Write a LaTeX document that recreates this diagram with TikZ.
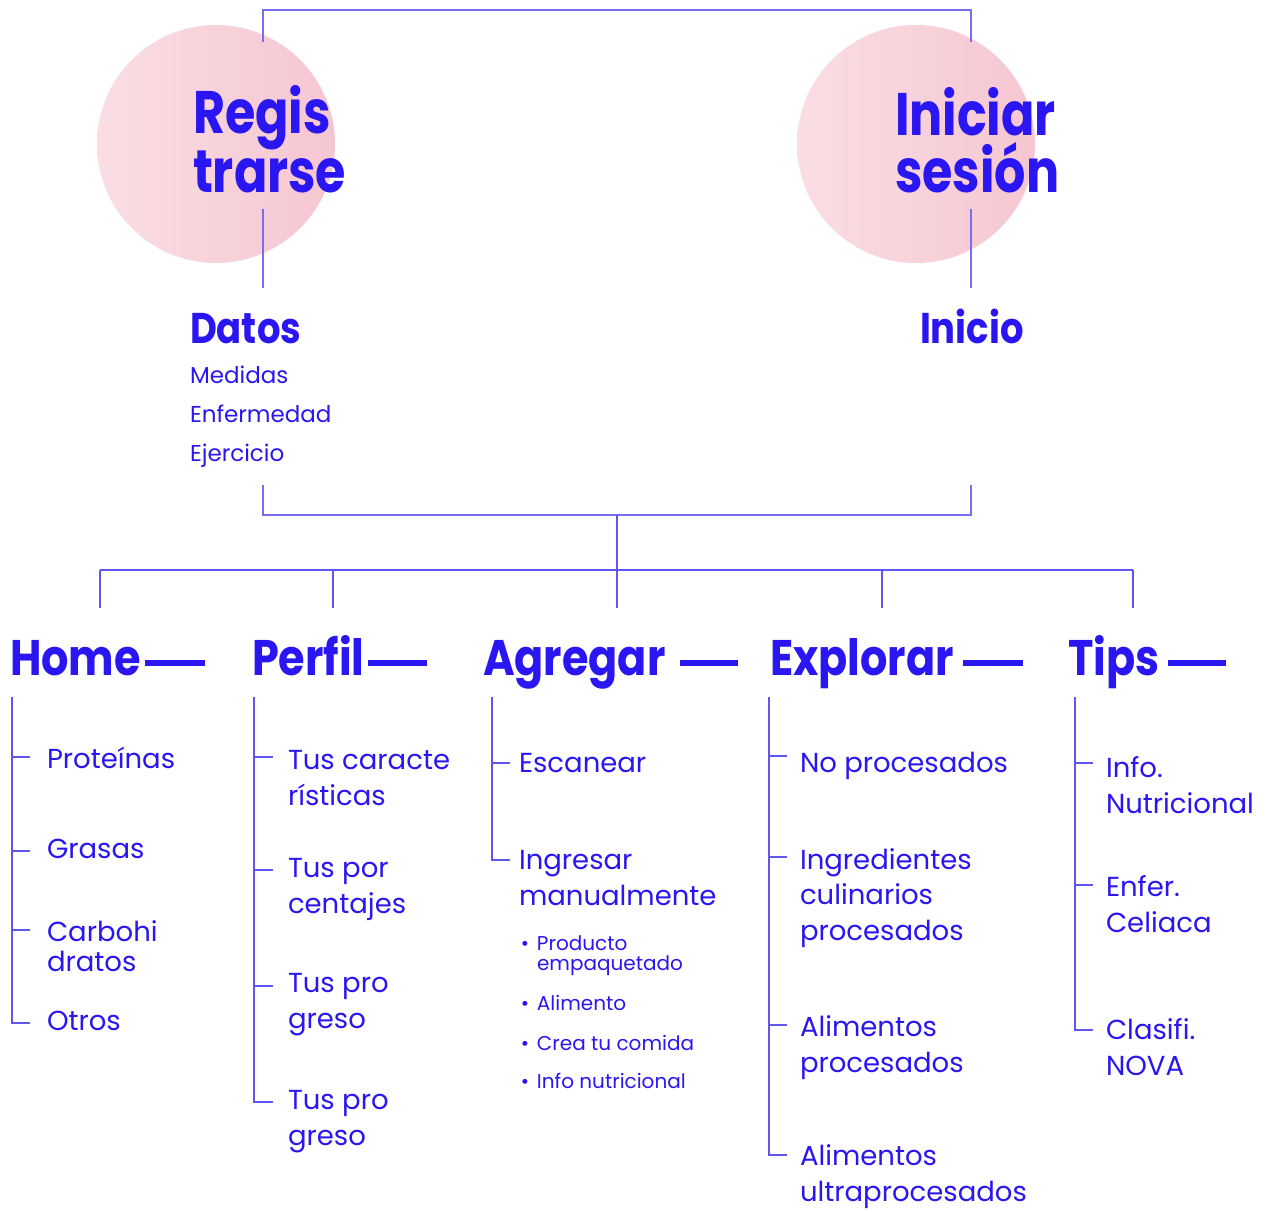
\documentclass[tikz,border=0pt]{standalone}
\usepackage{fontspec}
\setmainfont{Poppins}
\newfontfamily\hfont[FakeStretch=0.86]{Poppins}
\newfontfamily\bfont[FakeStretch=0.82]{Poppins}
\usetikzlibrary{calc}
\definecolor{tb}{RGB}{42,22,240}
\definecolor{lb}{RGB}{95,85,240}
\definecolor{lc}{RGB}{120,110,240}
\definecolor{pkl}{RGB}{250,222,228}
\definecolor{pkr}{RGB}{245,198,210}
\begin{document}
\begin{tikzpicture}[x=1pt,y=-1pt,
  every node/.style={inner sep=0pt, outer sep=0pt, text=tb, anchor=base west, align=left},
  big/.style={font=\bfont\bfseries\fontsize{60}{58}\selectfont},
  head/.style={font=\hfont\bfseries\fontsize{50}{50}\selectfont},
  sub/.style={font=\hfont\bfseries\fontsize{43}{43}\selectfont},
  small/.style={font=\fontsize{23}{39}\selectfont},
  item/.style={font=\fontsize{27.5}{35.5}\selectfont},
  itemt/.style={font=\fontsize{27.5}{30}\selectfont},
  tiny/.style={font=\fontsize{20}{20}\selectfont},
  tree/.style={draw=lb, line width=2pt},
  conn/.style={draw=lc, line width=2pt},
  dashline/.style={draw=tb, line width=6pt}
]
\useasboundingbox (0,0) rectangle (1275,1212);
% circles
\shade[left color=pkl, right color=pkr] (216,144) circle[radius=119pt];
\shade[left color=pkl, right color=pkr] (916,144) circle[radius=119pt];

% top texts (multi-line nodes are placed at the baseline of their last line)
\node[big] (reg) at (193,193) {Regis\\trarse};
\node[big] (ini) at (895,193) {Iniciar\\sesión};
\node[sub] (datos) at (190,343) {Datos};
\node[small] (dlist) at (190,461) {Medidas\\Enfermedad\\Ejercicio};
\node[sub] (inicio) at (920,343) {Inicio};

% top connector
\coordinate (rt) at (263,42);
\coordinate (it) at (971,42);
\coordinate (top) at (617,10);
\draw[conn] (rt) |- (top) -| (it);
\coordinate (rb) at (263,209);
\coordinate (rd) at (263,288);
\coordinate (ib) at (971,209);
\coordinate (id) at (971,288);
\draw[conn] (rb) -- (rd);
\draw[conn] (ib) -- (id);

% bottom bracket
\coordinate (dl) at (263,485);
\coordinate (dr) at (971,485);
\coordinate (mid) at (617,515);
\draw[conn] (dl) |- (mid) -| (dr);

% headings
\node[head] (home) at (10,675) {Home};
\node[head] (perfil) at (252,675) {Perfil};
\node[head] (agregar) at (483,675) {Agregar};
\node[head] (explorar) at (770,675) {Explorar};
\node[head] (tips) at (1068,675) {Tips};
\foreach \a/\b in {145/205, 368/427, 680/738, 963/1023, 1168/1226}{
  \draw[dashline] (\a,663) -- (\b,663);
}

% distribution bar
\coordinate (h0) at (100,570);
\coordinate (h4) at (1133,570);
\draw[tree] (h0) -- (h4);
\draw[tree] (mid) -- (617,608);
\foreach \x in {100,333,882,1133}{ \draw[tree] (\x,570) -- (\x,608); }

% Home column
\node[item] (prot) at (47,768) {Proteínas};
\node[item] (gras) at (47,858) {Grasas};
\node[itemt] (carb) at (47,971) {Carbohi\\dratos};
\node[item] (otros) at (47,1030) {Otros};
\coordinate (hT) at (12,697);
\draw[tree] (hT) |- (30,1023);
\foreach \y in {757,851,930}{ \draw[tree] (12,\y) -- (30,\y); }

% Perfil column
\node[item] (p1) at (288,805) {Tus caracte\\rísticas};
\node[item] (p2) at (288,913) {Tus por\\centajes};
\node[item] (p3) at (288,1028) {Tus pro\\greso};
\node[item] (p4) at (288,1145) {Tus pro\\greso};
\draw[tree] (254,697) |- (273,1102);
\foreach \y in {757,870,986}{ \draw[tree] (254,\y) -- (273,\y); }

% Agregar column
\node[item] (esc) at (519,772) {Escanear};
\node[item] (ingr) at (519,905) {Ingresar\\manualmente};
\draw[tree] (492,697) |- (510,860);
\draw[tree] (492,763) -- (510,763);
\node[tiny] (b1) at (537,970) {\llap{•\hspace{8pt}}Producto\\empaquetado};
\node[tiny] (b2) at (537,1010) {\llap{•\hspace{8pt}}Alimento};
\node[tiny] (b3) at (537,1050) {\llap{•\hspace{8pt}}Crea tu comida};
\node[tiny] (b4) at (537,1088) {\llap{•\hspace{8pt}}Info nutricional};

% Explorar column
\node[item] (e1) at (800,772) {No procesados};
\node[item] (e2) at (800,940) {Ingredientes\\culinarios\\procesados};
\node[item] (e3) at (800,1072) {Alimentos\\procesados};
\node[item] (e4) at (800,1201) {Alimentos\\ultraprocesados};
\draw[tree] (769,697) |- (787,1155);
\foreach \y in {756,857,1025}{ \draw[tree] (769,\y) -- (787,\y); }

% Tips column
\node[item] (t1) at (1106,813) {Info.\\Nutricional};
\node[item] (t2) at (1106,932) {Enfer.\\Celiaca};
\node[item] (t3) at (1106,1075) {Clasifi.\\NOVA};
\draw[tree] (1075,697) |- (1093,1030);
\foreach \y in {763,885}{ \draw[tree] (1075,\y) -- (1093,\y); }
\end{tikzpicture}
\end{document}
